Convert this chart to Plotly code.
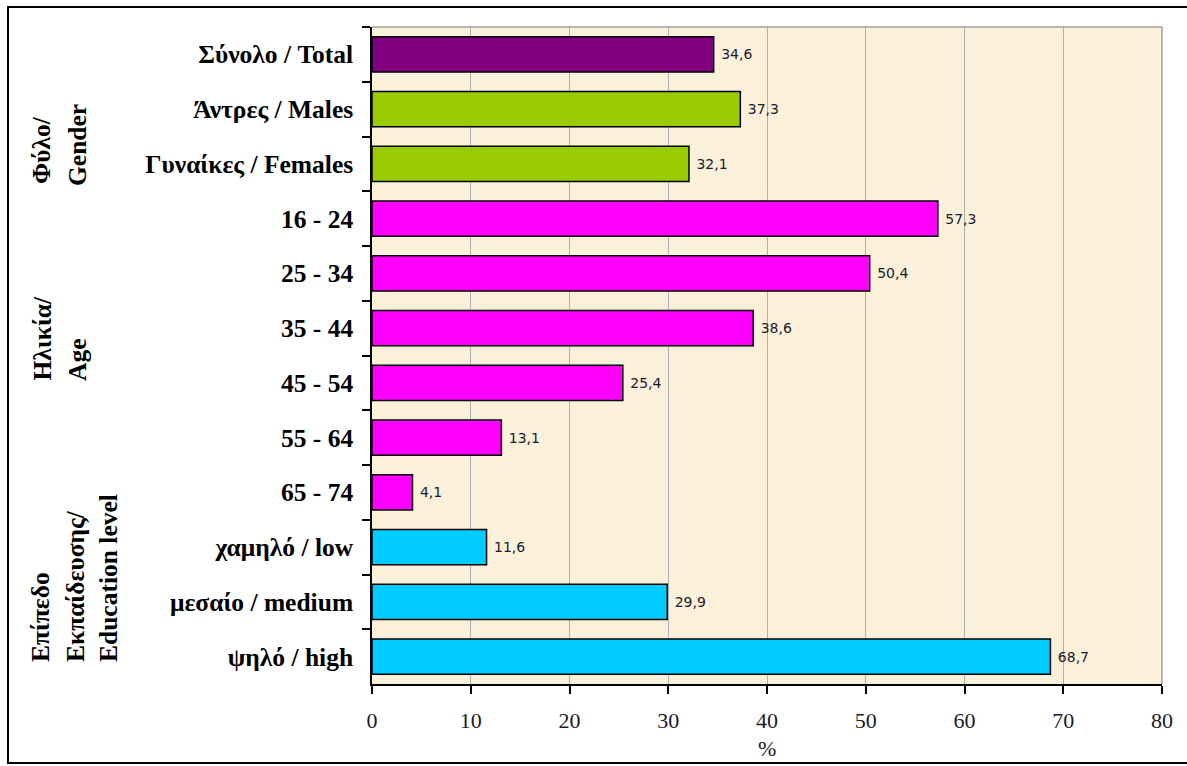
import plotly.graph_objects as go

categories = ["Σύνολο / Total", "Άντρες / Males", "Γυναίκες / Females",
              "16 - 24", "25 - 34", "35 - 44", "45 - 54", "55 - 64", "65 - 74",
              "χαμηλό / low", "μεσαίο / medium", "ψηλό / high"]
values = [34.6, 37.3, 32.1, 57.3, 50.4, 38.6, 25.4, 13.1, 4.1, 11.6, 29.9, 68.7]
groups = ["total", "gender", "gender", "age", "age", "age", "age", "age", "age",
          "edu", "edu", "edu"]
group_colors = {"total": "#800080", "gender": "#99CC00", "age": "#FF00FF", "edu": "#00CCFF"}
x_ticks = [0, 10, 20, 30, 40, 50, 60, 70, 80]
x_title = "%"

labels = [" " + f"{v:.1f}".replace(".", ",") for v in values]
colors = [group_colors[g] for g in groups]

W, H = 1187, 766
L, R, T, B = 372, 25, 27, 82
pw, ph = W - L - R, H - T - B


def px2x(px):
    return (px - L) / pw


def py2y(py):
    return 1 - (py - T) / ph


fig = go.Figure()
fig.add_trace(go.Bar(
    y=categories, x=values, orientation="h",
    marker=dict(color=colors, line=dict(color="black", width=1.5)),
    text=labels, textposition="outside", cliponaxis=False,
    textfont=dict(family="DejaVu Sans", size=14, color="#1a1a2e"),
    hoverinfo="x+y",
))

serif = "Liberation Serif"
fig.update_layout(
    width=W, height=H,
    margin=dict(l=L, r=R, t=T, b=B, autoexpand=False),
    paper_bgcolor="white",
    plot_bgcolor="#FBF0DA",
    bargap=0.36,
    showlegend=False,
    font=dict(family=serif, color="black"),
)
fig.update_xaxes(
    range=[0, 80], tickvals=x_ticks, ticktext=[str(t) for t in x_ticks],
    showgrid=True, gridcolor="#B0B0B0", gridwidth=1,
    showline=True, linecolor="black", linewidth=1.5,
    ticks="outside", ticklen=8, tickcolor="black", tickwidth=1.5,
    tickfont=dict(family=serif, size=22, color="#1a1a2e"),
    ticklabelstandoff=8,
    automargin=False,
    mirror=False, zeroline=False,
)
fig.update_yaxes(
    autorange="reversed", type="category",
    showline=True, linecolor="black", linewidth=1.5,
    ticks="outside", ticklen=8, tickcolor="black", tickwidth=1.5,
    tickson="boundaries",
    tickfont=dict(family=serif, size=25.5, color="black", weight="bold"),
    ticklabelstandoff=12,
    automargin=False,
    showgrid=False,
)

# plot frame on top and right (gray)
fig.add_shape(type="line", xref="paper", yref="paper", x0=0, x1=1, y0=1, y1=1,
              line=dict(color="#A0A0A0", width=1.5))
fig.add_shape(type="line", xref="paper", yref="paper", x0=1, x1=1, y0=0, y1=1,
              line=dict(color="#A0A0A0", width=1.5))

# outer border
fig.add_shape(type="rect", xref="paper", yref="paper",
              x0=px2x(8), x1=px2x(1192), y0=py2y(763), y1=py2y(7),
              line=dict(color="black", width=2), layer="below")

# x-axis title
fig.add_annotation(text=x_title, xref="paper", yref="paper",
                   x=0.5, y=py2y(748), xanchor="center", yanchor="middle",
                   showarrow=False, font=dict(family=serif, size=22, color="#1a1a2e"))

group_lines = [
    ("Φύλο/", 42, 186), ("Gender", 77, 188),
    ("Ηλικία/", 42, 383), ("Age", 77, 383),
    ("Επίπεδο", 40, 664), ("Εκπαίδευσης/", 75, 664), ("Education level", 108, 664),
]
for txt, px, py in group_lines:
    fig.add_annotation(text=txt, xref="paper", yref="paper",
                       x=px2x(px), y=py2y(py), xanchor="center", yanchor="bottom",
                       textangle=-90, showarrow=False,
                       font=dict(family=serif, size=25.5, color="black", weight="bold"))

fig.write_html("out.html")
